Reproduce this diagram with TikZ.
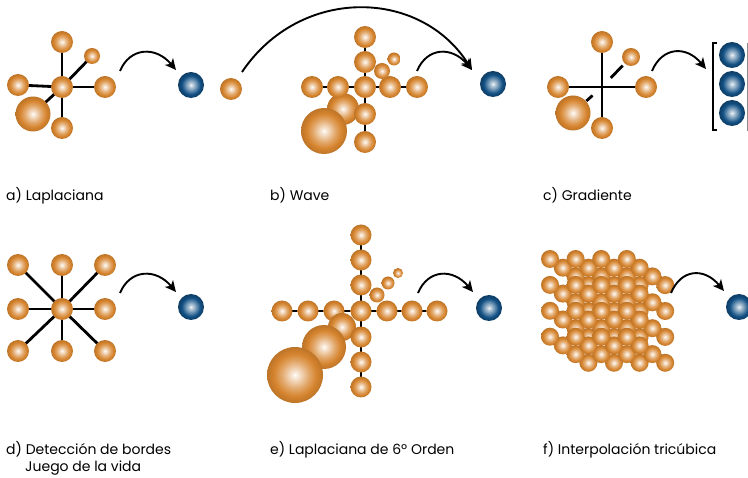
\documentclass[tikz,border=0pt]{standalone}
\usepackage{fontspec}
\setmainfont{Poppins}
\usetikzlibrary{arrows.meta}

\definecolor{orng}{RGB}{214,132,46}
\definecolor{blu}{RGB}{18,80,132}

% radial sphere shadings (circle edge at 25bp)
\pgfdeclareradialshading{oball}{\pgfpoint{0bp}{0bp}}{%
  color(0bp)=(white); color(2bp)=(white!85!orng); color(12bp)=(orng!70!white);
  color(19bp)=(orng); color(25bp)=(orng!88!black); color(50bp)=(orng!88!black)}
\pgfdeclareradialshading{bball}{\pgfpoint{0bp}{0bp}}{%
  color(0bp)=(white); color(2bp)=(white!80!blu); color(11bp)=(blu!65!white);
  color(18bp)=(blu); color(25bp)=(blu!75!black); color(50bp)=(blu!75!black)}

\pgfdeclarelayer{bg}
\pgfsetlayers{bg,main}

\tikzset{
  ob/.style={circle, inner sep=0pt, outer sep=0pt, shading=oball, minimum size=#1pt},
  bb/.style={circle, inner sep=0pt, outer sep=0pt, shading=bball, minimum size=#1pt},
  bond/.style={line width=2.8pt, black},
  thinbond/.style={line width=2.5pt, black},
  arr/.style={line width=1.9pt, -{Stealth[length=11pt,width=10.5pt,inset=3pt]}},
  lbl/.style={anchor=base west, inner sep=0pt, font=\fontsize{14}{16}\selectfont}
}

\begin{document}
\begin{tikzpicture}[x=1pt, y=-1pt]
\useasboundingbox (0,0) rectangle (748,478);

% ---------- a) Laplaciana ----------
\node[ob=22]   (a0) at (62,87)  {};
\node[ob=22]   (a1) at (62,42)  {};
\node[ob=22]   (a2) at (62,128) {};
\node[ob=22]   (a3) at (18,85)  {};
\node[ob=22]   (a4) at (105,87) {};
\node[ob=16]   (a5) at (92,56)  {};
\node[ob=35]   (a6) at (33,114) {};
\node[bb=26]   (ab) at (191,85) {};
\begin{pgfonlayer}{bg}
  \foreach \n in {a1,a2,a3,a4,a5,a6} \draw[bond] (a0.center) -- (\n.center);
\end{pgfonlayer}
\coordinate (aS) at (120,71);
\coordinate (aE) at (176,70);
\draw[arr] (aS) .. controls +(10,-24) and +(-20,-24) .. (aE);

% ---------- b) Wave ----------
\node[ob=22] (bs) at (231,89) {};
\node[ob=32] (bd1) at (343,109) {};
\foreach \x [count=\i] in {312,338,365,390,417}
  \node[ob=22] (br\i) at (\x,87) {};
\foreach \y [count=\i] in {37,62,114,142}
  \node[ob=22] (bc\i) at (365,\y) {};
\node[ob=16] (bu1) at (382,71) {};
\node[ob=13] (bu2) at (394,59) {};
\node[ob=46] (bd2) at (324,131) {};
\node[bb=26] (bbl) at (493,84) {};
\begin{pgfonlayer}{bg}
  \draw[thinbond] (br1.center) -- (br5.center);
  \draw[thinbond] (bc1.center) -- (bc4.center);
\end{pgfonlayer}
\coordinate (bS1) at (242,72);
\coordinate (bS2) at (417,71);
\coordinate (bE)  at (472,70);
\draw[arr] (bS1) .. controls (300,-14) and (420,-12) .. (bE);
\draw[arr] (bS2) .. controls +(10,-24) and +(-20,-24) .. (bE);

% ---------- c) Gradiente ----------
\coordinate (c0) at (602,87);
\node[ob=22] (c1) at (602,42)  {};
\node[ob=22] (c2) at (602,128) {};
\node[ob=22] (c3) at (558,87)  {};
\node[ob=22] (c4) at (646,87)  {};
\node[ob=18] (c5) at (631,57)  {};
\node[ob=35] (c6) at (573,113) {};
\begin{pgfonlayer}{bg}
  \draw[bond] (c1.center) -- (c2.center);
  \draw[bond] (c3.center) -- (c4.center);
  \draw[bond, shorten <=12.7pt, shorten >=12pt] (c0) -- (c5.center);
  \draw[bond, shorten <=12.7pt, shorten >=18pt] (c0) -- (c6.center);
\end{pgfonlayer}
\coordinate (cS) at (652,71);
\coordinate (cE) at (706,69);
\draw[arr] (cS) .. controls +(10,-24) and +(-20,-24) .. (cE);
\node[bb=26] (cb1) at (732,55)  {};
\node[bb=26] (cb2) at (732,84)  {};
\node[bb=26] (cb3) at (732,113) {};
% column-vector brackets
\draw[line width=2pt] (717,43.5) -- (712.5,43.5) -- (712.5,130) -- (717,130);
\draw[line width=1.2pt, black!45] (752,43.5) -- (747.6,43.5) -- (747.6,130) -- (752,130);

% ---------- d) Detección de bordes / Juego de la vida ----------
\foreach \x [count=\i] in {18,62,105}
  \foreach \y [count=\j] in {265,309,351}
    \node[ob=22] (d\i\j) at (\x,\y) {};
\begin{pgfonlayer}{bg}
  \foreach \n in {d11,d21,d31,d12,d32,d13,d23,d33}
    \draw[bond] (d22.center) -- (\n.center);
\end{pgfonlayer}
\coordinate (dS) at (120,293);
\coordinate (dE) at (176,292);
\draw[arr] (dS) .. controls +(10,-24) and +(-20,-24) .. (dE);
\node[bb=26] (db) at (191,307) {};

% ---------- e) Laplaciana de 6º Orden ----------
\foreach \x [count=\i] in {282,308,334,361,387,412,437}
  \node[ob=21] (er\i) at (\x,311) {};
\node[ob=15] (eu1) at (377,295) {};
\node[ob=13] (eu2) at (388,283) {};
\node[ob=10] (eu3) at (398,273) {};
\node[ob=28] (ed1) at (342,327) {};
\node[ob=44] (ed2) at (324,347) {};
\node[ob=56] (ed3) at (295,375) {};
\foreach \y [count=\i] in {235,260,285,337,362,387}
  \node[ob=21] (ec\i) at (361,\y) {};
\begin{pgfonlayer}{bg}
  \draw[thinbond] (er1.center) -- (er7.center);
  \draw[thinbond] (ec1.center) -- (ec6.center);
\end{pgfonlayer}
\coordinate (eS) at (418,293);
\coordinate (eE) at (473,292);
\draw[arr] (eS) .. controls +(10,-24) and +(-20,-24) .. (eE);
\node[bb=26] (eb) at (489,308) {};

% ---------- f) Interpolación tricúbica ----------
\foreach \l in {3,2,1,0}
  \foreach \i in {0,1,2,3}
    \foreach \j in {0,1,2,3}
      \node[ob=18] (f\l\i\j) at ({550+25.6*\i+12.8*\l},{259+25.9*\j+8.7*\l}) {};
\coordinate (fS) at (671,293);
\coordinate (fE) at (724,291);
\draw[arr] (fS) .. controls +(10,-24) and +(-20,-24) .. (fE);
\node[bb=26] (fb) at (739,307) {};

% ---------- captions ----------
\node[lbl] (la) at (6,201) {a) Laplaciana};
\node[lbl] (lb) at (270,201) {b) Wave};
\node[lbl] (lc) at (543,201) {c) Gradiente};
\node[lbl] (ld) at (6,455) {d) Detección de bordes};
\node[lbl] (ld2) at (25,472) {Juego de la vida};
\node[lbl] (le) at (270,455) {e) Laplaciana de 6º Orden};
\node[lbl] (lf) at (543,455) {f) Interpolación tricúbica};
\end{tikzpicture}
\end{document}
